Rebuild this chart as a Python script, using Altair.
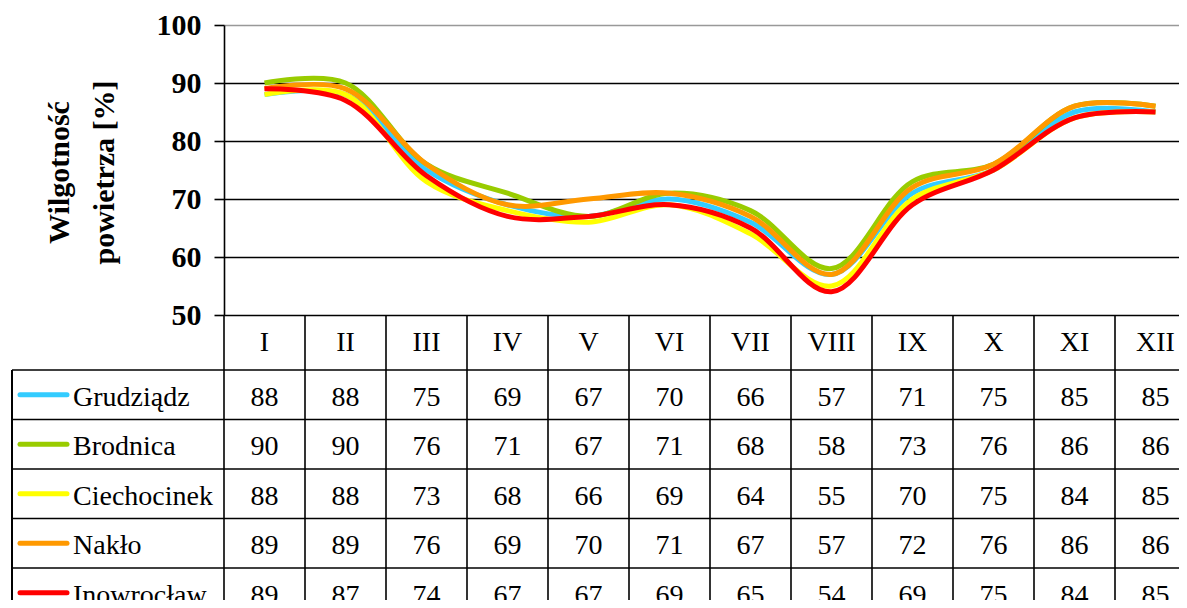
import altair as alt
import pandas as pd

months = ["I", "II", "III", "IV", "V", "VI", "VII", "VIII", "IX", "X", "XI", "XII"]
stations = ["Grudziądz", "Brodnica", "Ciechocinek", "Nakło", "Inowrocław"]
grudziadz = [88, 88, 75, 69, 67, 70, 66, 57, 71, 75, 85, 85]
brodnica = [90, 90, 76, 71, 67, 71, 68, 58, 73, 76, 86, 86]
ciechocinek = [88, 88, 73, 68, 66, 69, 64, 55, 70, 75, 84, 85]
naklo = [89, 89, 76, 69, 70, 71, 67, 57, 72, 76, 86, 86]
inowroclaw = [89, 87, 74, 67, 67, 69, 65, 54, 69, 75, 84, 85]
colors = ["#33CCFF", "#99CC00", "#FFFF00", "#FF9900", "#FF0000"]
y_ticks = [50, 60, 70, 80, 90, 100]

series = [grudziadz, brodnica, ciechocinek, naklo, inowroclaw]
rows = []
for s, vals in zip(stations, series):
    for m, v in zip(months, vals):
        rows.append({"station": s, "month": m, "value": v})
df = pd.DataFrame(rows)
df_st = pd.DataFrame({"station": stations})
df_m = pd.DataFrame({"month": months})

FONT = "Liberation Serif"
FS = 28
FSB = 30

xscale = alt.Scale(type="band", domain=months, range=[0, 972], paddingInner=0, paddingOuter=0)
yscale = alt.Scale(domain=[50, 100], range=[290, 0], nice=False, zero=False)
tscale = alt.Scale(type="band", domain=stations, range=[345, 592.5], paddingInner=0, paddingOuter=0)
cscale = alt.Scale(domain=stations, range=colors)

yaxis = alt.Axis(values=y_ticks, title=["Wilgotność", "powietrza [%]"], titleFont=FONT,
                 titleFontSize=FSB, titleFontWeight="bold", titleColor="black", titleAngle=270,
                 titleX=-165, titleY=147, titleAlign="center", titleBaseline="middle",
                 titleLineHeight=45, labelFont=FONT, labelFontSize=FSB, labelFontWeight="bold",
                 labelColor="black", labelPadding=13, tickSize=10, tickColor="black",
                 tickWidth=1.6, domainColor="black", domainWidth=1.6, grid=True,
                 gridColor=alt.condition("datum.value == 100", alt.value("#999999"), alt.value("black")),
                 gridWidth=1.6, gridOpacity=1)

line_layers = []
for s, col in zip(stations, colors):
    line_layers.append(
        alt.Chart(df[df.station == s]).mark_line(interpolate="catmull-rom", strokeWidth=5, color=col)
        .encode(x=alt.X("month:N", scale=xscale, axis=None),
                y=alt.Y("value:Q", scale=yscale, axis=yaxis))
    )
lines = alt.layer(*line_layers)

vrules = alt.Chart(df_m).mark_rule(color="black", strokeWidth=1.6).encode(
    x=alt.X("month:N", scale=xscale, axis=None, bandPosition=0),
    y=alt.value(290), y2=alt.value(620))
month_labels = alt.Chart(df_m).mark_text(font=FONT, fontSize=FS, color="black",
                                         baseline="middle", dy=3).encode(
    x=alt.X("month:N", scale=xscale, axis=None),
    y=alt.value(314.5), text="month:N")
left_border = alt.Chart(df_st).mark_rule(color="black", strokeWidth=1.6).encode(
    x=alt.value(-212), y=alt.value(345), y2=alt.value(620))
hrules = alt.Chart(df_st).mark_rule(color="black", strokeWidth=1.6).encode(
    y=alt.Y("station:N", scale=tscale, axis=None, bandPosition=0),
    x=alt.value(-212), x2=alt.value(990))
numbers = alt.Chart(df).mark_text(font=FONT, fontSize=FS, color="black", baseline="middle", dy=3).encode(
    x=alt.X("month:N", scale=xscale, axis=None),
    y=alt.Y("station:N", scale=tscale, axis=None),
    text="value:Q")
labels = alt.Chart(df_st).mark_text(font=FONT, fontSize=FS, color="black", baseline="middle",
                                    align="left", dy=3).encode(
    x=alt.value(-151), y=alt.Y("station:N", scale=tscale, axis=None), text="station:N")
symbols = alt.Chart(df_st).mark_rule(strokeWidth=5, strokeCap="round").encode(
    x=alt.value(-204), x2=alt.value(-157),
    y=alt.Y("station:N", scale=tscale, axis=None),
    color=alt.Color("station:N", scale=cscale, legend=None))
table = alt.layer(vrules, month_labels, left_border, hrules, numbers, labels, symbols)

chart = alt.layer(lines, table).resolve_scale(y="independent").properties(
    width=955, height=575,
    autosize=alt.AutoSizeParams(type="none"),
    padding={"left": 216, "top": 17, "right": 0, "bottom": 0},
    background="white",
).configure_view(stroke=None)

chart.save("out.html", embed_options={"renderer": "svg", "actions": False})
